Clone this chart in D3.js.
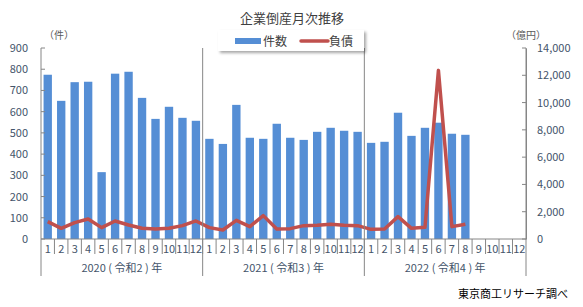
<!DOCTYPE html>
<html>
<head>
<meta charset="utf-8">
<script src="https://cdn.jsdelivr.net/npm/d3@7"></script>
<style>
  body { margin: 0; background: #fff; }
  text { font-family: "Noto Sans CJK JP", "Noto Sans", sans-serif; }
</style>
</head>
<body>
<div id="chart"></div>
<script>
// data
var years = ['2020（令和2）年', '2021（令和3）年', '2022（令和4）年'];
var months = ['1','2','3','4','5','6','7','8','9','10','11','12'];
var counts = [774, 651, 739, 741, 315, 779, 788, 665, 566, 623, 571, 557,
              472, 448, 632, 477, 472, 543, 477, 467, 505, 524, 510, 505,
              453, 458, 595, 486, 524, 548, 496, 491];
var debts = [1273, 783, 1199, 1468, 832, 1322, 1028, 783, 734, 783, 979, 1322,
             832, 661, 1371, 906, 1713, 734, 759, 979, 1003, 1077, 1003, 979,
             710, 734, 1640, 783, 857, 12360, 906, 1077];
var leftTicks = [0, 100, 200, 300, 400, 500, 600, 700, 800, 900];
var rightTicks = [0, 2000, 4000, 6000, 8000, 10000, 12000, 14000];

var svgWidth = 583, svgHeight = 307;
var margin = { top: 48, left: 41, right: 57, bottom: 68 };
var width = svgWidth - margin.left - margin.right;
var height = svgHeight - margin.top - margin.bottom;
var axisColor = '#44546a';
var lineGray = '#868686';

var svg = d3.select('#chart').append('svg')
    .attr('width', svgWidth)
    .attr('height', svgHeight);

var defs = svg.append('defs');
var f = defs.append('filter').attr('id', 'shadow')
    .attr('x', '-10%').attr('y', '-20%').attr('width', '130%').attr('height', '160%');
f.append('feDropShadow').attr('dx', 2).attr('dy', 2).attr('stdDeviation', 1.5)
    .attr('flood-color', '#000').attr('flood-opacity', 0.35);

var g = svg.append('g').attr('transform', `translate(${margin.left}, ${margin.top})`);

// one slot per month, all three years
var slots = [];
years.forEach(function(y, yi) {
    months.forEach(function(m) { slots.push(yi + '-' + m); });
});

var x = d3.scaleBand().domain(slots).range([0, width]).paddingInner(0.38).paddingOuter(0.19);
var xStep = x.step();
var yLeft = d3.scaleLinear().domain([0, 900]).range([height, 0]);
var yRight = d3.scaleLinear().domain([0, 14000]).range([height, 0]);

// bars
g.selectAll('rect.bar')
    .data(counts)
    .enter()
    .append('rect')
    .attr('class', 'bar')
    .attr('x', (d, i) => x(slots[i]))
    .attr('y', d => yLeft(d))
    .attr('width', x.bandwidth())
    .attr('height', d => height - yLeft(d))
    .attr('fill', '#558ed5');

// debt line
var line = d3.line()
    .x((d, i) => x(slots[i]) + x.bandwidth() / 2)
    .y(d => yRight(d));

g.append('path')
    .datum(debts)
    .attr('d', line)
    .attr('fill', 'none')
    .attr('stroke', '#c0504d')
    .attr('stroke-width', 3.5)
    .attr('stroke-linejoin', 'round');

// left axis
var leftAxis = d3.axisLeft(yLeft).tickValues(leftTicks).tickSize(0).tickPadding(13);
var la = g.append('g').call(leftAxis);
la.select('.domain').remove();
la.selectAll('text').attr('fill', axisColor).style('font-size', '11px');
g.selectAll('line.ltick').data(leftTicks).enter().append('line')
    .attr('x1', 0).attr('x2', 4)
    .attr('y1', d => yLeft(d)).attr('y2', d => yLeft(d))
    .attr('stroke', lineGray);

// right axis
var rightAxis = d3.axisRight(yRight).tickValues(rightTicks).tickSize(0).tickPadding(11)
    .tickFormat(d3.format(','));
var ra = g.append('g').attr('transform', `translate(${width}, 0)`).call(rightAxis);
ra.select('.domain').attr('stroke', lineGray);
ra.selectAll('text').attr('fill', axisColor).style('font-size', '11px');
g.selectAll('line.rtick').data(rightTicks).enter().append('line')
    .attr('x1', width - 4).attr('x2', width)
    .attr('y1', d => yRight(d)).attr('y2', d => yRight(d))
    .attr('stroke', lineGray);

// x axis base line
g.append('line')
    .attr('x1', 0).attr('x2', width)
    .attr('y1', height).attr('y2', height)
    .attr('stroke', lineGray);

// month separators
g.selectAll('line.msep').data(slots.slice(1)).enter().append('line')
    .attr('x1', d => x(d) - x.bandwidth() * 0.31)
    .attr('x2', d => x(d) - x.bandwidth() * 0.31)
    .attr('y1', height).attr('y2', height + 15)
    .attr('stroke', lineGray);

// month labels
g.selectAll('text.mlab').data(slots).enter().append('text')
    .attr('x', d => x(d) + x.bandwidth() / 2)
    .attr('y', height + 14)
    .attr('text-anchor', 'middle')
    .attr('fill', axisColor)
    .style('font-size', '11px')
    .text(d => d.split('-')[1]);

// year separators
var yearW = xStep * 12;
g.selectAll('line.ysep').data(d3.range(years.length + 1)).enter().append('line')
    .attr('x1', d => d * yearW).attr('x2', d => d * yearW)
    .attr('y1', 0).attr('y2', height + 37)
    .attr('stroke', lineGray);

// year labels
g.selectAll('text.ylab').data(years).enter().append('text')
    .attr('x', (d, i) => i * yearW + yearW / 2)
    .attr('y', height + 33)
    .attr('text-anchor', 'middle')
    .attr('fill', axisColor)
    .style('font-size', '11px')
    .text(d => d.replace('（', ' ( ').replace('）', ' ) '));

// unit labels
svg.append('text').attr('x', 44).attr('y', 39)
    .attr('fill', '#595959').style('font-size', '10px').text('（件）');
svg.append('text').attr('x', 506).attr('y', 39)
    .attr('fill', '#595959').style('font-size', '10px').text('（億円）');

// title
svg.append('text').attr('x', 292).attr('y', 23)
    .attr('text-anchor', 'middle')
    .attr('fill', '#404040')
    .style('font-size', '13px')
    .text('企業倒産月次推移');

// legend
var lg = svg.append('g').attr('transform', 'translate(218, 30)');
lg.append('rect').attr('width', 146).attr('height', 21)
    .attr('fill', '#fff').attr('filter', 'url(#shadow)');
lg.append('rect').attr('x', 17).attr('y', 8).attr('width', 26).attr('height', 6)
    .attr('fill', '#558ed5');
lg.append('text').attr('x', 45).attr('y', 15.5)
    .attr('fill', '#404040').style('font-size', '12px').text('件数');
lg.append('line').attr('x1', 83).attr('x2', 110).attr('y1', 11).attr('y2', 11)
    .attr('stroke', '#c0504d').attr('stroke-width', 3.5).attr('stroke-linecap', 'round');
lg.append('text').attr('x', 111).attr('y', 15.5)
    .attr('fill', '#404040').style('font-size', '12px').text('負債');

// source note
svg.append('text').attr('x', 568).attr('y', 298)
    .attr('text-anchor', 'end')
    .attr('fill', '#000')
    .style('font-size', '11px')
    .text('東京商工リサーチ調べ');
</script>
</body>
</html>
